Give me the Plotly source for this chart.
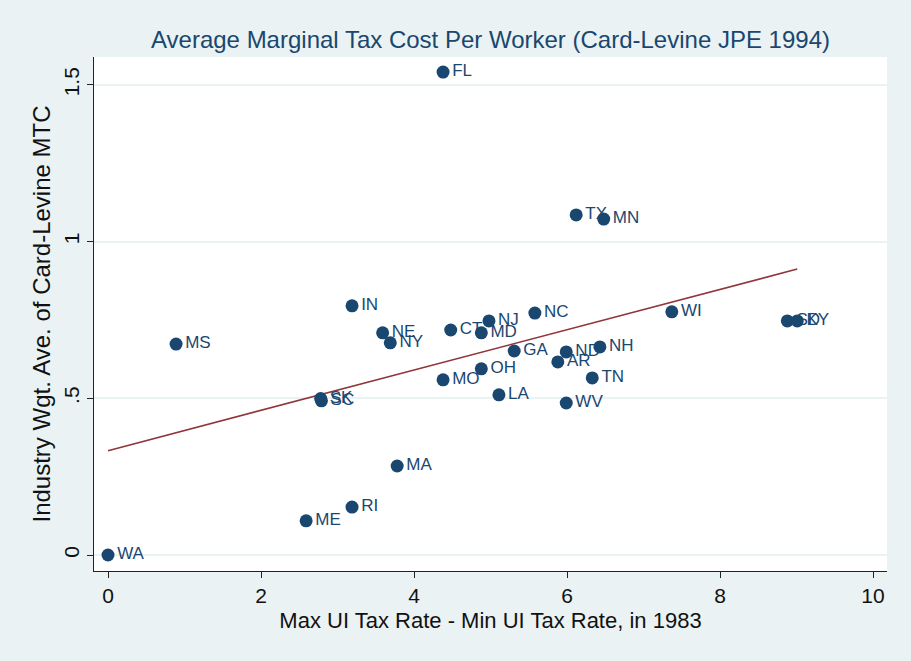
import plotly.graph_objects as go

states = ["FL", "TX", "MN", "IN", "NE", "NY", "CT", "NJ", "MD", "NC", "WI", "SD", "KY",
          "MS", "GA", "ND", "NH", "AR", "OH", "MO", "LA", "TN", "WV", "SK", "SC",
          "MA", "RI", "ME", "WA"]
tax_range = [4.38, 6.12, 6.48, 3.19, 3.59, 3.69, 4.48, 4.98, 4.88, 5.58, 7.37, 8.88, 9.01,
             0.89, 5.31, 5.99, 6.43, 5.88, 4.88, 4.38, 5.11, 6.33, 5.99, 2.78, 2.79,
             3.78, 3.19, 2.59, 0.0]
mtc = [1.541, 1.085, 1.072, 0.795, 0.709, 0.677, 0.718, 0.747, 0.709, 0.772, 0.776, 0.747, 0.747,
       0.673, 0.651, 0.648, 0.664, 0.616, 0.594, 0.559, 0.511, 0.565, 0.485, 0.499, 0.492,
       0.284, 0.153, 0.109, 0.0]

fit_intercept = 0.333
fit_slope = 0.0643

x_ticks = [0, 2, 4, 6, 8, 10]
y_ticks = [0, 0.5, 1, 1.5]
y_ticktext = ["0", ".5", "1", "1.5"]

navy = "#1a476f"
bg = "#eaf2f3"
fnt = "Liberation Sans, Arial, sans-serif"

fit_x = [min(tax_range), max(tax_range)]
fit_y = [fit_intercept + fit_slope * v for v in fit_x]

fig = go.Figure()
fig.add_trace(go.Scatter(
    x=fit_x, y=fit_y, mode="lines",
    line=dict(color="#90353b", width=1.6), hoverinfo="skip"))
fig.add_trace(go.Scatter(
    x=tax_range, y=mtc, mode="markers+text", text=states,
    textposition="middle right",
    textfont=dict(family=fnt, size=17, color=navy),
    marker=dict(color=navy, size=13, line=dict(width=0))))

fig.update_layout(
    width=911, height=661,
    paper_bgcolor=bg, plot_bgcolor="white",
    margin=dict(l=94, r=24, t=57, b=90),
    showlegend=False,
    title=dict(text="Average Marginal Tax Cost Per Worker (Card-Levine JPE 1994)",
               x=0.5, xref="paper", xanchor="center", y=1 - 40 / 661, yanchor="middle",
               font=dict(family=fnt, size=24, color=navy)),
    font=dict(family=fnt, color="#111111"),
)
fig.update_xaxes(
    range=[-0.183, 10.183], tickvals=x_ticks, showgrid=False, zeroline=False,
    showline=True, linecolor="#222222", linewidth=1.2,
    ticks="outside", ticklen=6, tickcolor="#222222", tickfont=dict(size=21),
    title=dict(text="Max UI Tax Rate - Min UI Tax Rate, in 1983", font=dict(size=22), standoff=6))
fig.update_yaxes(
    range=[-0.051, 1.589], tickvals=y_ticks, ticktext=y_ticktext, tickangle=-90,
    showgrid=True, gridcolor="#eaf2f3", gridwidth=1.5, zeroline=False,
    showline=True, linecolor="#222222", linewidth=1.2,
    ticks="outside", ticklen=6, tickcolor="#222222", tickfont=dict(size=21),
    title=dict(text="Industry Wgt. Ave. of Card-Levine MTC", font=dict(size=24), standoff=2))

fig.write_html("out.html")
